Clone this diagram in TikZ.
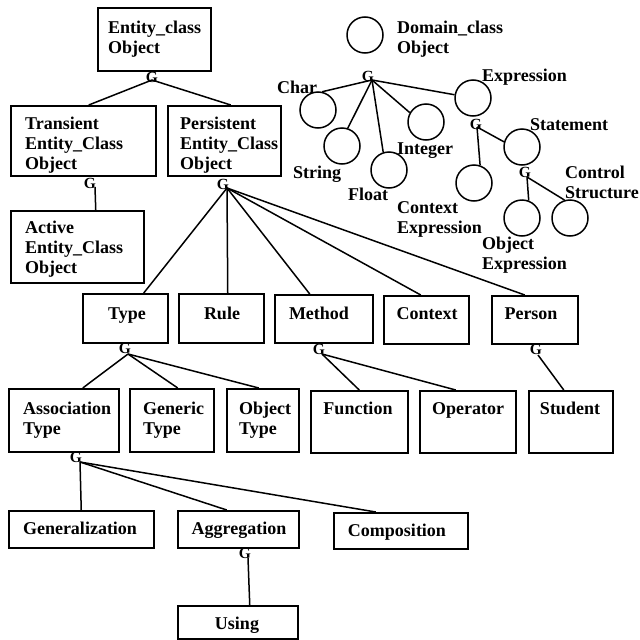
\documentclass[tikz,border=0pt]{standalone}
\usepackage{fontspec}
\setmainfont{Liberation Serif}
\begin{document}
\begin{tikzpicture}[x=1pt,y=-1pt,
  box/.style={draw, line width=1.5pt, inner sep=0pt, anchor=north west},
  bubble/.style={draw, circle, line width=1.5pt, minimum size=36pt, inner sep=0pt},
  lbl/.style={font=\fontsize{18}{20}\selectfont\bfseries, inner sep=0pt, align=left},
  gl/.style={font=\fontsize{15.5}{15.5}\selectfont\bfseries, inner sep=0pt},
  conn/.style={line width=1.5pt}]
\useasboundingbox (0,0) rectangle (640,640);

% ---------- boxes ----------
\node[box, minimum width=113pt, minimum height=63pt] (ent) at (97,7) {};
\node[box, minimum width=145pt, minimum height=70pt] (tra) at (10,105) {};
\node[box, minimum width=113pt, minimum height=70pt] (per) at (167,105) {};
\node[box, minimum width=133pt, minimum height=72pt] (act) at (10,210) {};
\node[box, minimum width=85pt, minimum height=49pt] (type) at (82,293) {};
\node[box, minimum width=85pt, minimum height=49pt] (rule) at (178,293) {};
\node[box, minimum width=98pt, minimum height=48pt] (meth) at (274,294) {};
\node[box, minimum width=85pt, minimum height=48pt] (ctx) at (383,295) {};
\node[box, minimum width=86pt, minimum height=48pt] (pers) at (491,295) {};
\node[box, minimum width=110pt, minimum height=63pt] (asso) at (8,388) {};
\node[box, minimum width=84pt, minimum height=63pt] (gen) at (129,388) {};
\node[box, minimum width=72pt, minimum height=63pt] (objt) at (226,388) {};
\node[box, minimum width=97pt, minimum height=62pt] (func) at (310,390) {};
\node[box, minimum width=96pt, minimum height=62pt] (oper) at (419,390) {};
\node[box, minimum width=84pt, minimum height=62pt] (stud) at (528,390) {};
\node[box, minimum width=145pt, minimum height=37pt] (genz) at (8,510) {};
\node[box, minimum width=121pt, minimum height=37pt] (aggr) at (177,510) {};
\node[box, minimum width=134pt, minimum height=36pt] (comp) at (333,512) {};
\node[box, minimum width=120pt, minimum height=33pt] (using) at (177,605) {};

% ---------- box texts ----------
\node[lbl, anchor=north west] (ent-t) at (108,21) {Entity\_class\\Object};
\node[lbl, anchor=north west] (tra-t) at (25,117) {Transient\\Entity\_Class\\Object};
\node[lbl, anchor=north west] (per-t) at (180,117) {Persistent\\Entity\_Class\\Object};
\node[lbl, anchor=north west] (act-t) at (25,221) {Active\\Entity\_Class\\Object};
\node[lbl, anchor=base] (type-t) at (127,319) {Type};
\node[lbl, anchor=base] (rule-t) at (222,319) {Rule};
\node[lbl, anchor=base] (meth-t) at (319,319) {Method};
\node[lbl, anchor=base] (ctx-t) at (427,319) {Context};
\node[lbl, anchor=base] (pers-t) at (531,319) {Person};
\node[lbl, anchor=north west] (asso-t) at (23,402) {Association\\Type};
\node[lbl, anchor=north west] (gen-t) at (143,402) {Generic\\Type};
\node[lbl, anchor=north west] (objt-t) at (239,402) {Object\\Type};
\node[lbl, anchor=base] (func-t) at (358,414) {Function};
\node[lbl, anchor=base] (oper-t) at (468,414) {Operator};
\node[lbl, anchor=base] (stud-t) at (570,414) {Student};
\node[lbl, anchor=base] (genz-t) at (80,534) {Generalization};
\node[lbl, anchor=base] (aggr-t) at (239,534) {Aggregation};
\node[lbl, anchor=base] (comp-t) at (397,536) {Composition};
\node[lbl, anchor=base] (using-t) at (237,629) {Using};

% ---------- circles ----------
\node[bubble] (dom) at (365,35) {};
\node[bubble] (char) at (318,110) {};
\node[bubble] (str) at (342,146) {};
\node[bubble] (flt) at (389,170) {};
\node[bubble] (int) at (426,122) {};
\node[bubble] (expr) at (473,98) {};
\node[bubble] (ctxe) at (474,183) {};
\node[bubble] (stmt) at (522,147) {};
\node[bubble] (objx) at (522,218) {};
\node[bubble] (ctrl) at (570,218) {};

% ---------- circle labels ----------
\node[lbl, anchor=north west] (dom-t) at (397,21) {Domain\_class\\Object};
\node[lbl, anchor=base west] (char-t) at (277,93) {Char};
\node[lbl, anchor=base west] (str-t) at (293,178) {String};
\node[lbl, anchor=base west] (flt-t) at (348,200) {Float};
\node[lbl, anchor=base west] (int-t) at (397,154) {Integer};
\node[lbl, anchor=base west] (expr-t) at (482,81) {Expression};
\node[lbl, anchor=north west] (ctxe-t) at (397,201) {Context\\Expression};
\node[lbl, anchor=base west] (stmt-t) at (530,130) {Statement};
\node[lbl, anchor=north west] (objx-t) at (482,237) {Object\\Expression};
\node[lbl, anchor=north west] (ctrl-t) at (565,166) {Control\\Structure};

% ---------- G markers ----------
\node[gl] (gent) at (152,77) {G};
\node[gl] (gtra) at (90,183) {G};
\node[gl] (gper) at (223,184) {G};
\node[gl] (gtype) at (125,348) {G};
\node[gl] (gmeth) at (319,349) {G};
\node[gl] (gpers) at (536,349) {G};
\node[gl] (gasso) at (76,457) {G};
\node[gl] (gaggr) at (245,553) {G};
\node[gl] (gdom) at (368,76) {G};
\node[gl] (gexpr) at (476,124) {G};
\node[gl] (gstmt) at (525,172) {G};

% ---------- connectors ----------
\draw[conn] ([shift={(0,3)}]gent.center) -- ([xshift=5.5pt]tra.north);
\draw[conn] ([shift={(0,3)}]gent.center) -- ([xshift=6.5pt]per.north);
\draw[conn] ([shift={(5,4)}]gtra.center) -- ([xshift=18.5pt]act.north);

\draw[conn] ([shift={(4,4)}]gper.center) -- ([xshift=18.5pt]type.north);
\draw[conn] ([shift={(4,4)}]gper.center) -- ([xshift=6.5pt]rule.north);
\draw[conn] ([shift={(4,4)}]gper.center) -- ([xshift=-14pt]meth.north);
\draw[conn] ([shift={(4,4)}]gper.center) -- ([xshift=-5.5pt]ctx.north);
\draw[conn] ([shift={(4,4)}]gper.center) -- ([xshift=-10pt]pers.north);

\draw[conn] ([shift={(3,6)}]gtype.center) -- ([xshift=19pt]asso.north);
\draw[conn] ([shift={(3,6)}]gtype.center) -- ([xshift=6pt]gen.north);
\draw[conn] ([shift={(3,6)}]gtype.center) -- ([xshift=-4pt]objt.north);

\draw[conn] ([shift={(3,5)}]gmeth.center) -- (func.north);
\draw[conn] ([shift={(3,5)}]gmeth.center) -- ([xshift=-12pt]oper.north);

\draw[conn] ([shift={(2,6)}]gpers.center) -- ([xshift=-7pt]stud.north);

\draw[conn] ([shift={(4,5)}]gasso.center) -- (genz.north);
\draw[conn] ([shift={(4,5)}]gasso.center) -- ([xshift=-11.5pt]aggr.north);
\draw[conn] ([shift={(4,5)}]gasso.center) -- ([xshift=-25pt]comp.north);

\draw[conn] ([shift={(3,5)}]gaggr.center) -- ([xshift=12pt]using.north);

\draw[conn] ([shift={(4,4)}]gdom.center) -- (char.77);
\draw[conn] ([shift={(4,4)}]gdom.center) -- (str.72);
\draw[conn] ([shift={(4,4)}]gdom.center) -- (flt.108);
\draw[conn] ([shift={(4,4)}]gdom.center) -- (int.150);
\draw[conn] ([shift={(4,4)}]gdom.center) -- (expr.170);

\draw[conn] ([shift={(1,3)}]gexpr.center) -- (ctxe.71);
\draw[conn] ([shift={(1,3)}]gexpr.center) -- (stmt.164);

\draw[conn] ([shift={(2,5)}]gstmt.center) -- (objx.69);
\draw[conn] ([shift={(2,5)}]gstmt.center) -- (ctrl.107);
\end{tikzpicture}
\end{document}
